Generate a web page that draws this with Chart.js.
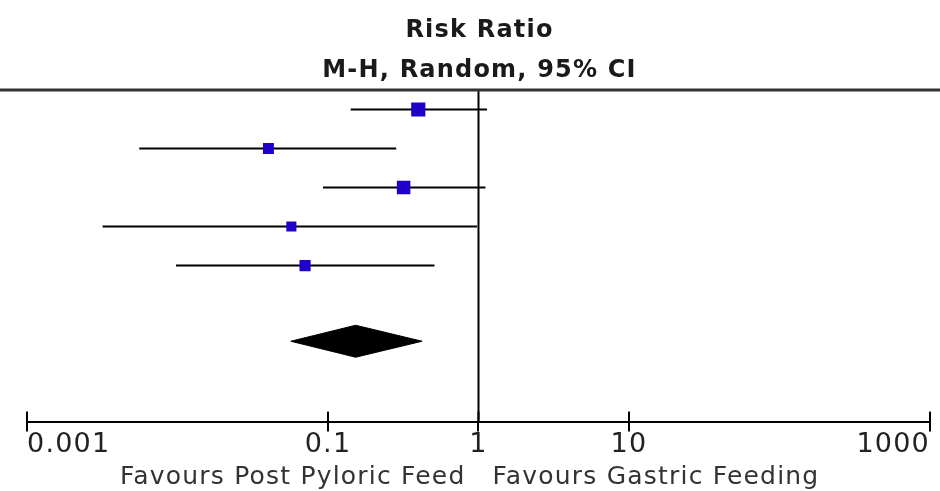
<!DOCTYPE html>
<html><head><meta charset="utf-8">
<script src="https://cdn.jsdelivr.net/npm/chart.js@4/dist/chart.umd.min.js"></script>
<style>html,body{margin:0;padding:0;background:#fff;overflow:hidden;}</style>
</head><body>
<canvas id="c" width="940" height="491"></canvas>
<script>
// ---- data ----
const studyRows   = [1, 2, 3, 4, 5];
const riskRatio   = [0.398, 0.0402, 0.318, 0.0571, 0.0704];
const ciLower     = [0.1415, 0.00557, 0.0926, 0.00318, 0.00977];
const ciUpper     = [1.14, 0.284, 1.112, 0.98, 0.510];
const weightPct   = [27.5, 16.5, 25, 14, 17];
const pooledRow   = [6.94];
const pooledRR    = [0.1527];
const pooledLower = [0.0566];
const pooledUpper = [0.422];
const xTickValues = [0.001, 0.1, 1, 10, 1000];
const xTickLabels = ['0.001', '0.1', '1', '10', '1000'];
const titleLines  = ['Risk Ratio', 'M-H, Random, 95% CI'];
const favoursLeft  = 'Favours Post Pyloric Feed';
const favoursRight = 'Favours Gastric Feeding';

// ---- styles ----
const BLUE = '#1e00c8';
const FONT = 'DejaVu Sans';
const Y_MIN = 0.5, Y_MAX = 9;
const DIAMOND_HALF = 0.41;

const datasets = [];
// CI lines
studyRows.forEach((r, i) => {
  datasets.push({
    type: 'scatter', showLine: true,
    data: [{x: ciLower[i], y: r}, {x: ciUpper[i], y: r}],
    borderColor: '#000', borderWidth: 2, pointRadius: 0, fill: false, order: 3
  });
});
// line of no effect
datasets.push({
  type: 'scatter', showLine: true,
  data: [{x: 1, y: Y_MIN}, {x: 1, y: Y_MAX}],
  borderColor: '#000', borderWidth: 2, pointRadius: 0, fill: false, order: 4
});
// squares
datasets.push({
  type: 'scatter',
  data: studyRows.map((r, i) => ({x: riskRatio[i], y: r})),
  pointStyle: 'rect',
  pointRadius: weightPct.map(w => 2.7 * Math.sqrt(w) / Math.SQRT2),
  backgroundColor: BLUE, borderColor: BLUE, borderWidth: 0, order: 1
});
// pooled diamond
pooledRow.forEach((r, i) => {
  datasets.push({
    type: 'scatter', showLine: true,
    data: [
      {x: pooledLower[i], y: r},
      {x: pooledRR[i], y: r - DIAMOND_HALF},
      {x: pooledUpper[i], y: r},
      {x: pooledRR[i], y: r + DIAMOND_HALF},
      {x: pooledLower[i], y: r}
    ],
    borderColor: '#000', borderWidth: 1, backgroundColor: '#000',
    pointRadius: 0, fill: 'shape', order: 2
  });
});

const decor = {
  id: 'decor',
  beforeDraw(chart) {
    chart.ctx.letterSpacing = '1.2px';
  },
  afterDraw(chart) {
    const ctx = chart.ctx;
    const xs = chart.scales.x;
    const area = chart.chartArea;
    ctx.save();
    // top rule across the whole figure
    ctx.strokeStyle = '#333';
    ctx.lineWidth = 3;
    ctx.beginPath();
    ctx.moveTo(0, area.top);
    ctx.lineTo(chart.width, area.top);
    ctx.stroke();
    // tick marks above the axis
    ctx.strokeStyle = '#000';
    ctx.lineWidth = 2;
    xs.ticks.forEach(t => {
      const px = xs.getPixelForValue(t.value);
      ctx.beginPath();
      ctx.moveTo(px, area.bottom - 10);
      ctx.lineTo(px, area.bottom);
      ctx.stroke();
    });
    // favours labels
    const x1 = xs.getPixelForValue(1);
    ctx.letterSpacing = '1.2px';
    ctx.font = '25px "' + FONT + '"';
    ctx.fillStyle = '#333';
    ctx.textBaseline = 'alphabetic';
    ctx.textAlign = 'right';
    ctx.fillText(favoursLeft, x1 - 13, 484);
    ctx.textAlign = 'left';
    ctx.fillText(favoursRight, x1 + 14, 484);
    ctx.restore();
  }
};

new Chart(document.getElementById('c'), {
  data: { datasets },
  options: {
    responsive: false,
    animation: false,
    devicePixelRatio: 1,
    events: [],
    layout: { padding: { left: 27, right: 8, top: 0, bottom: 33 } },
    plugins: {
      legend: { display: false },
      tooltip: { enabled: false },
      title: {
        display: true,
        text: titleLines,
        color: '#1a1a1a',
        font: { family: FONT, size: 24, weight: 'bold', lineHeight: 1.667 },
        padding: { top: 11, bottom: -1 }
      }
    },
    scales: {
      x: {
        type: 'logarithmic',
        position: 'bottom',
        min: 0.001, max: 1000,
        afterBuildTicks: (scale) => { scale.ticks = xTickValues.map(v => ({ value: v })); },
        ticks: {
          autoSkip: false, maxRotation: 0, align: 'inner', padding: -3,
          color: '#222',
          font: { family: FONT, size: 27 },
          callback: (val, idx) => xTickLabels[idx]
        },
        grid: { display: true, drawOnChartArea: false, drawTicks: true, tickLength: 10, color: '#000', lineWidth: 2 },
        border: { display: true, color: '#000', width: 2 }
      },
      y: {
        type: 'linear', reverse: true, min: Y_MIN, max: Y_MAX, display: false
      }
    }
  },
  plugins: [decor]
});
</script>
</body></html>
